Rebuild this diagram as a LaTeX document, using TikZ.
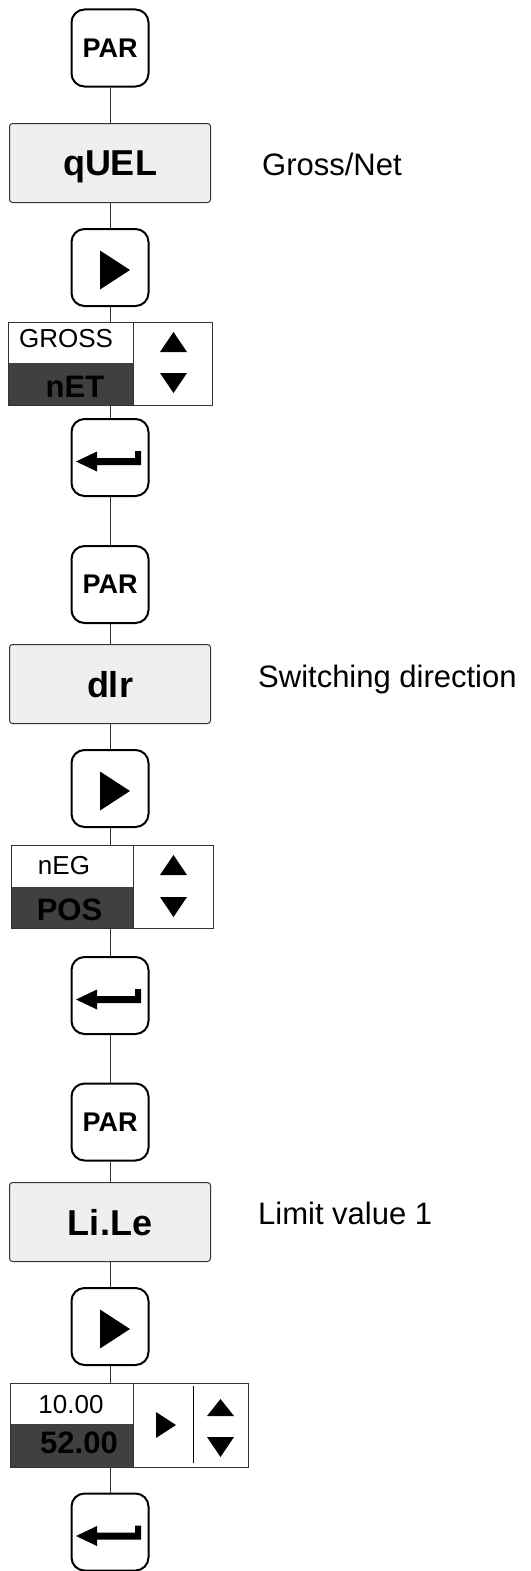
\documentclass[tikz,border=0pt]{standalone}
\usepackage{fontspec}
\setmainfont{Liberation Sans}
\definecolor{boxfill}{HTML}{EFEFEF}
\definecolor{darkcell}{HTML}{404040}
\definecolor{edge}{HTML}{333333}
\begin{document}
\begin{tikzpicture}[x=1pt,y=-1pt,
  keybox/.style={draw=black, line width=2pt, rounded corners=13pt, minimum width=77pt, minimum height=77pt, inner sep=0pt, fill=white, text depth=0pt},
  parbox/.style={draw=edge, line width=1pt, rounded corners=3pt, fill=boxfill, minimum width=201pt, minimum height=79pt, inner sep=0pt, text depth=0pt, font=\fontsize{36}{36}\selectfont\bfseries},
  dispbox/.style={draw=edge, line width=1pt, inner sep=0pt},
  conn/.style={draw=edge, line width=1pt},
  keytext/.style={font=\fontsize{27}{27}\selectfont\bfseries},
  sidetext/.style={anchor=base west, inner sep=0pt, font=\fontsize{31}{31}\selectfont},
  toptext/.style={anchor=base, inner sep=0pt, font=\fontsize{26}{26}\selectfont},
  bottext/.style={anchor=base, inner sep=0pt, font=\fontsize{31}{31}\selectfont\bfseries},
  tri/.style={fill=black}
]
\useasboundingbox (0,0) rectangle (530,1571);

% ---------- connectors first (behind) ----------
% (drawn later using node names; nodes are filled so lines can be drawn behind)

% ================= block 1 =================
\node[keybox, keytext] (par1) at (110,48) {PAR};
\node[parbox] (quel) at (110,163) {qUEL};
\node[sidetext] (lbl1) at (262,175) {Gross/Net};
\node[keybox] (play1) at (110,267.5) {};
\fill[tri] ([shift={(-10,-17)}]play1.center) -- ([shift={(-10,22)}]play1.center) -- ([shift={(20,2.5)}]play1.center) -- cycle;
% display 1
\fill[darkcell] (8,363) rectangle (133,405);
\node[dispbox, minimum width=204pt, minimum height=83pt] (disp1) at (110,363.5) {};
\draw[edge, line width=1pt] (133,322) -- (133,405);
\node[toptext] (d1top) at (66,347) {GROSS};
\node[bottext] (d1bot) at (75,397) {nET};
\fill[tri] (160,352) -- (187,352) -- (173.5,332) -- cycle;
\fill[tri] (160,373) -- (187,373) -- (173.5,393) -- cycle;
\node[keybox] (ent1) at (110,457.5) {};
\fill[black, shift={(ent1.center)}] (-34,4) -- (-13,-6) -- (-13,0.5) -- (25,0.5) -- (25,-6.5) -- (31,-6.5) -- (31,7.5) -- (-13,7.5) -- (-13,14) -- cycle;

% ================= block 2 =================
\node[keybox, keytext] (par2) at (110,584.5) {PAR};
\node[parbox] (dir) at (110,684) {dlr};
\node[sidetext] (lbl2) at (258,687) {Switching direction};
\node[keybox] (play2) at (110,788.5) {};
\fill[tri] ([shift={(-10,-17)}]play2.center) -- ([shift={(-10,22)}]play2.center) -- ([shift={(20,2.5)}]play2.center) -- cycle;
% display 2
\fill[darkcell] (11,887) rectangle (133,928);
\node[dispbox, minimum width=202pt, minimum height=83pt] (disp2) at (112,886.5) {};
\draw[edge, line width=1pt] (133,845) -- (133,928);
\node[toptext] (d2top) at (64,874) {nEG};
\node[bottext] (d2bot) at (69.5,920) {POS};
\fill[tri] (160,875) -- (187,875) -- (173.5,855) -- cycle;
\fill[tri] (160,897) -- (187,897) -- (173.5,917) -- cycle;
\node[keybox] (ent2) at (110,995.5) {};
\fill[black, shift={(ent2.center)}] (-34,4) -- (-13,-6) -- (-13,0.5) -- (25,0.5) -- (25,-6.5) -- (31,-6.5) -- (31,7.5) -- (-13,7.5) -- (-13,14) -- cycle;

% ================= block 3 =================
\node[keybox, keytext] (par3) at (110,1122) {PAR};
\node[parbox] (lile) at (110,1222) {Li.Le};
\node[sidetext] (lbl3) at (258,1224) {Limit value 1};
\node[keybox] (play3) at (110,1326.5) {};
\fill[tri] ([shift={(-10,-17)}]play3.center) -- ([shift={(-10,22)}]play3.center) -- ([shift={(20,2.5)}]play3.center) -- cycle;
% display 3
\fill[darkcell] (10,1424) rectangle (133,1467);
\node[dispbox, minimum width=238pt, minimum height=84pt] (disp3) at (129,1425) {};
\draw[edge, line width=1pt] (133,1383) -- (133,1467);
\draw[black, line width=1pt] (193,1386) -- (193,1463);
\node[toptext] (d3top) at (71,1413) {10.00};
\node[bottext] (d3bot) at (79,1453) {52.00};
\fill[tri] (156,1412) -- (156,1438) -- (176,1425) -- cycle;
\fill[tri] (207,1416) -- (234,1416) -- (220.5,1399) -- cycle;
\fill[tri] (207,1437) -- (234,1437) -- (220.5,1457) -- cycle;
\node[keybox] (ent3) at (110,1532) {};
\fill[black, shift={(ent3.center)}] (-34,4) -- (-13,-6) -- (-13,0.5) -- (25,0.5) -- (25,-6.5) -- (31,-6.5) -- (31,7.5) -- (-13,7.5) -- (-13,14) -- cycle;

% ---------- connectors ----------
\draw[conn] (par1) -- (quel);
\draw[conn] (quel) -- (play1);
\draw[conn] (play1) -- (play1 |- disp1.north);
\draw[conn] (ent1 |- disp1.south) -- (ent1);
\draw[conn] (ent1) -- (par2);
\draw[conn] (par2) -- (dir);
\draw[conn] (dir) -- (play2);
\draw[conn] (play2) -- (play2 |- disp2.north);
\draw[conn] (ent2 |- disp2.south) -- (ent2);
\draw[conn] (ent2) -- (par3);
\draw[conn] (par3) -- (lile);
\draw[conn] (lile) -- (play3);
\draw[conn] (play3) -- (play3 |- disp3.north);
\draw[conn] (ent3 |- disp3.south) -- (ent3);
\end{tikzpicture}
\end{document}
